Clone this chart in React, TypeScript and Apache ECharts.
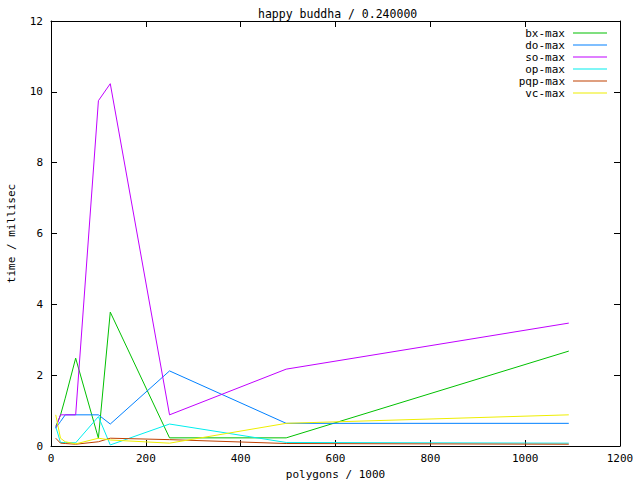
import React, { useEffect, useRef } from "react";
import * as echarts from "echarts";

const TITLE = "happy buddha / 0.240000";
const X_NAME = "polygons / 1000";
const Y_NAME = "time / millisec";

const POLYGONS = [10, 20, 30, 52, 100, 125, 250, 496, 1092];

const SERIES_NAMES = ["bx-max", "do-max", "so-max", "op-max", "pqp-max", "vc-max"];
const BX_MAX = [0.55, 0.87, 1.35, 2.48, 0.22, 3.78, 0.23, 0.23, 2.68];
const DO_MAX = [0.51, 0.69, 0.88, 0.88, 0.88, 0.62, 2.12, 0.64, 0.64];
const SO_MAX = [0.5, 0.88, 0.88, 0.88, 9.75, 10.23, 0.88, 2.17, 3.47];
const OP_MAX = [0.55, 0.1, 0.1, 0.09, 0.83, 0.03, 0.62, 0.1, 0.08];
const PQP_MAX = [0.22, 0.08, 0.07, 0.05, 0.12, 0.22, 0.18, 0.07, 0.05];
const VC_MAX = [0.88, 0.22, 0.12, 0.06, 0.22, 0.17, 0.08, 0.64, 0.88];
const COLORS = ["#00c000", "#0080ff", "#c000ff", "#00eeee", "#c04000", "#eeee00"];

const X_TICKS = [0, 200, 400, 600, 800, 1000, 1200];
const Y_TICKS = [0, 2, 4, 6, 8, 10, 12];

const FONT = "DejaVu Sans Mono";

export default function App() {
  const ref = useRef<HTMLDivElement>(null);
  useEffect(() => {
    if (!ref.current) return;
    const chart = echarts.init(ref.current, undefined, { renderer: "svg" });
    const values = [BX_MAX, DO_MAX, SO_MAX, OP_MAX, PQP_MAX, VC_MAX];
    const xMin = X_TICKS[0];
    const xMax = X_TICKS[X_TICKS.length - 1];
    const xStep = X_TICKS[1] - X_TICKS[0];
    const yMin = Y_TICKS[0];
    const yMax = Y_TICKS[Y_TICKS.length - 1];
    const yStep = Y_TICKS[1] - Y_TICKS[0];
    const axisCommon = {
      type: "value" as const,
      axisLine: { show: true, onZero: false, lineStyle: { color: "#000", width: 1 } },
      axisTick: { show: true, inside: true, length: 6, lineStyle: { color: "#000" } },
      splitLine: { show: false },
    };
    const labelStyle = { color: "#000", fontFamily: FONT, fontSize: 11 };
    chart.setOption({
      animation: false,
      backgroundColor: "#fff",
      title: {
        text: TITLE,
        left: 258,
        top: 8,
        padding: 0,
        textStyle: { color: "#000", fontFamily: FONT, fontSize: 11.5, fontWeight: "normal" },
      },
      grid: {
        left: 51,
        right: 20,
        top: 21,
        bottom: 34,
        containLabel: false,
        outerBoundsMode: "none",
      },
      legend: {
        orient: "vertical",
        right: 33,
        top: 27,
        align: "right",
        icon: "rect",
        itemWidth: 34,
        itemHeight: 1,
        itemGap: 0,
        padding: 0,
        data: SERIES_NAMES,
        textStyle: { ...labelStyle, lineHeight: 12, padding: [0, 3, 0, 0] },
      },
      xAxis: [
        {
          ...axisCommon,
          position: "bottom",
          min: xMin,
          max: xMax,
          interval: xStep,
          name: X_NAME,
          nameLocation: "middle",
          nameGap: 21,
          nameTextStyle: labelStyle,
          axisLabel: { ...labelStyle, margin: 7, formatter: (v: number) => String(v) },
        },
        {
          ...axisCommon,
          position: "top",
          min: xMin,
          max: xMax,
          interval: xStep,
          axisLabel: { show: false },
        },
      ],
      yAxis: [
        {
          ...axisCommon,
          position: "left",
          min: yMin,
          max: yMax,
          interval: yStep,
          name: Y_NAME,
          nameLocation: "middle",
          nameGap: 34,
          nameRotate: 90,
          nameTextStyle: labelStyle,
          axisLabel: { ...labelStyle, margin: 8, formatter: (v: number) => String(v) },
        },
        {
          ...axisCommon,
          position: "right",
          min: yMin,
          max: yMax,
          interval: yStep,
          axisLabel: { show: false },
        },
      ],
      series: SERIES_NAMES.map((name, i) => ({
        name,
        type: "line",
        xAxisIndex: 0,
        yAxisIndex: 0,
        showSymbol: false,
        symbol: "none",
        color: COLORS[i],
        lineStyle: { color: COLORS[i], width: 1 },
        data: POLYGONS.map((x, j) => [x, values[i][j]]),
      })),
    });
    return () => chart.dispose();
  }, []);
  return (
    <div
      ref={ref}
      style={{ position: "fixed", left: 0, top: 0, width: 640, height: 480, background: "#fff" }}
    />
  );
}
